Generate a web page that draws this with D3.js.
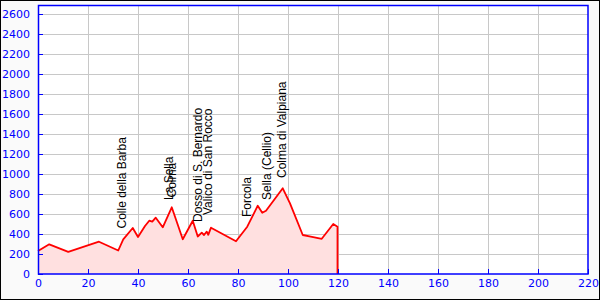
<!DOCTYPE html>
<html>
<head>
<meta charset="utf-8">
<script src="https://cdn.jsdelivr.net/npm/d3@7"></script>
<style>
  html, body { margin: 0; padding: 0; background: #fafafa; }
  svg { display: block; }
</style>
</head>
<body>
<div id="chart"></div>
<script>
// profile: distance (km) and elevation (m)
const km   = [0, 4.5, 12.1, 24.4, 32.1, 34.1, 37.9, 40.0, 42.8, 44.5, 45.7, 47.1, 49.9, 53.5, 57.9, 61.9, 63.9, 65.5, 66.4, 67.5, 68.1, 69.2, 79.2, 83.7, 87.9, 89.7, 91.2, 97.9, 100.8, 105.9, 109.1, 113.5, 118.1, 119.8];
const elev = [230, 297, 222, 323, 235, 347, 460, 370, 480, 533, 523, 563, 467, 667, 348, 533, 375, 413, 390, 423, 392, 463, 328, 473, 683, 613, 633, 857, 707, 390, 373, 352, 500, 473];

// passes
const passNames = ["Colle della Barba", "La Sella", "Colma", "Dosso di S. Bernardo", "Valico di San Rocco", "Forcola", "Sella (Cellio)", "Colma di Valpiana"];
const passKm    = [33.5, 52.5, 53.5, 64.1, 68.1, 83.5, 91.7, 97.5];
const passElev  = [355, 640, 665, 420, 490, 470, 640, 860];

const xTicks = d3.range(0, 221, 20);
const yTicks = d3.range(0, 2601, 200);

const W = 600, H = 300;
const margin = { top: 5, right: 12, bottom: 26, left: 38 };
const width = W - margin.left - margin.right;
const height = H - margin.top - margin.bottom;

const svg = d3.select("#chart").append("svg")
    .attr("width", W)
    .attr("height", H);

// outer frame
svg.append("rect")
    .attr("x", 0.5).attr("y", 0.5)
    .attr("width", W - 1).attr("height", H - 1)
    .attr("fill", "#fafafa")
    .attr("stroke", "#000");

const g = svg.append("g")
    .attr("transform", "translate(" + margin.left + "," + margin.top + ")");

const x = d3.scaleLinear().domain([0, 220]).range([0, width]);
const y = d3.scaleLinear().domain([0, 2690]).range([height, 0]);

g.append("rect")
    .attr("width", width).attr("height", height)
    .attr("fill", "#fff");

// grid
g.append("g").selectAll("line").data(xTicks.slice(1, -1)).join("line")
    .attr("x1", d => x(d) + 0.5).attr("x2", d => x(d) + 0.5)
    .attr("y1", 0).attr("y2", height)
    .attr("stroke", "#c8c8c8");
g.append("g").selectAll("line").data(yTicks.slice(1)).join("line")
    .attr("y1", d => Math.round(y(d)) + 0.5).attr("y2", d => Math.round(y(d)) + 0.5)
    .attr("x1", 0).attr("x2", width)
    .attr("stroke", "#c8c8c8");

// profile area
const pts = km.map((k, i) => [k, elev[i]]);
const area = d3.area()
    .x(d => x(d[0]))
    .y0(y(0))
    .y1(d => y(d[1]));
g.append("path")
    .datum(pts)
    .attr("d", area)
    .attr("fill", "#ffe0e0")
    .attr("stroke", "none");

const line = d3.line().x(d => x(d[0])).y(d => y(d[1]));
const closed = pts.concat([[km[km.length - 1], 0]]);
g.append("path")
    .datum(closed)
    .attr("d", line)
    .attr("fill", "none")
    .attr("stroke", "#f00")
    .attr("stroke-width", 1.8)
    .attr("stroke-linejoin", "round");

// pass labels
g.append("g").selectAll("text").data(passNames).join("text")
    .attr("transform", (d, i) => "translate(" + (x(passKm[i]) + 4) + "," + (y(passElev[i]) - 10) + ") rotate(-90)")
    .attr("font-family", "Liberation Sans, Arial, sans-serif")
    .attr("font-size", 12)
    .attr("fill", "#000")
    .text(d => d);

// axes
const xAxis = g.append("g")
    .attr("transform", "translate(0," + height + ")")
    .call(d3.axisBottom(x).tickValues(xTicks).tickFormat(d3.format("d")).tickSizeInner(-5).tickSizeOuter(0).tickPadding(5));
const yAxis = g.append("g")
    .call(d3.axisLeft(y).tickValues(yTicks).tickFormat(d3.format("d")).tickSizeInner(-5).tickSizeOuter(0).tickPadding(8));

[xAxis, yAxis].forEach(a => {
    a.select(".domain").remove();
    a.selectAll("line").attr("stroke", "#00f");
    a.selectAll("text")
        .attr("fill", "#00f")
        .attr("font-family", "DejaVu Sans, sans-serif")
        .attr("font-size", 11);
});

// plot border
g.append("rect")
    .attr("x", 0.5).attr("y", 0.5)
    .attr("width", width - 0.5).attr("height", height - 0.5)
    .attr("fill", "none")
    .attr("stroke", "#00f")
    .attr("stroke-width", 1.5);
</script>
</body>
</html>
